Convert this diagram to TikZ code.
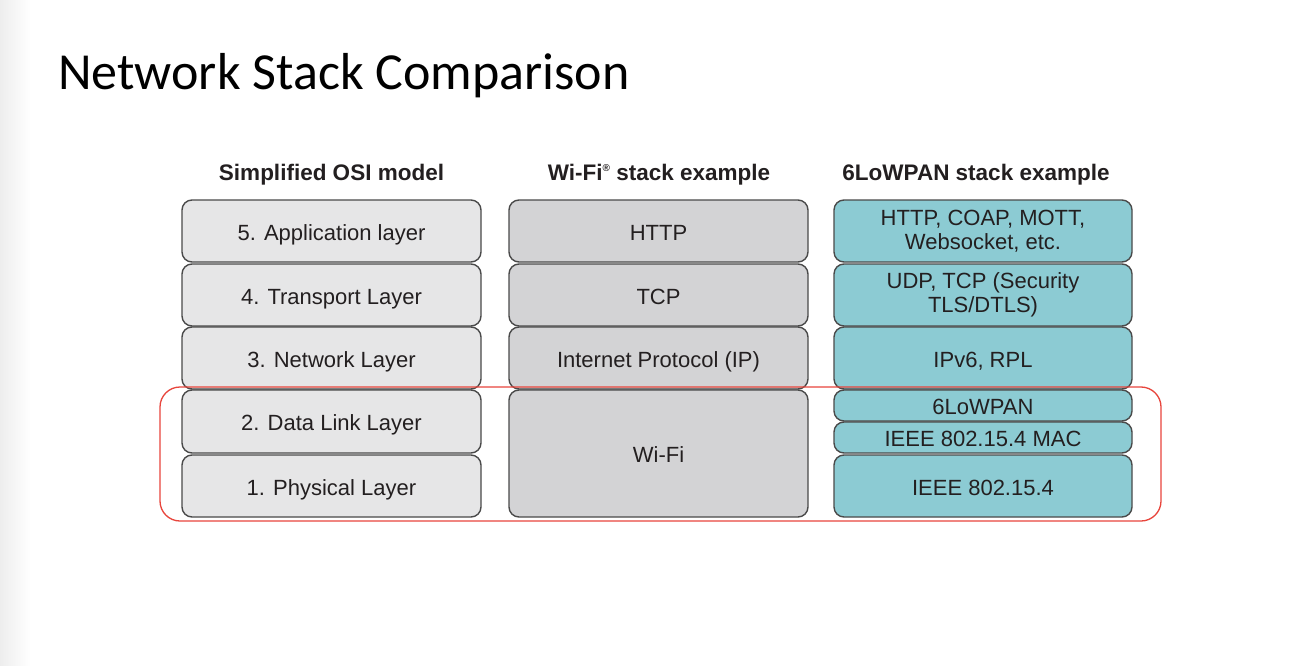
\documentclass[tikz,border=0pt]{standalone}
\usepackage{fontspec}
\setmainfont{Liberation Sans}
\newfontfamily\titlefont{Carlito}
\definecolor{bordc}{HTML}{4A4A4A}
\definecolor{txtc}{HTML}{231F20}
\definecolor{osifill}{HTML}{E6E6E7}
\definecolor{wififill}{HTML}{D3D3D5}
\definecolor{lowfill}{HTML}{8CCBD3}
\definecolor{redc}{HTML}{E8453C}
\begin{document}
\begin{tikzpicture}[x=1pt,y=-1pt,
  layerbox/.style={draw=bordc, line width=1.4pt, rounded corners=10pt, inner sep=0pt, align=center,
    text=txtc, font=\fontsize{22}{24}\selectfont},
  one/.style={text height=18.5pt, text depth=0pt},
  osi/.style={layerbox, fill=osifill, minimum width=299pt},
  wifi/.style={layerbox, fill=wififill, minimum width=299pt},
  low/.style={layerbox, fill=lowfill, minimum width=298pt},
  head/.style={text=txtc, font=\fontsize{22.5}{25}\selectfont\bfseries, anchor=base, inner sep=0pt}]
\useasboundingbox (0,0) rectangle (1290,666);
\fill[white] (0,0) rectangle (1290,666);
\shade[left color=black!7, right color=white] (0,0) rectangle (30,666);
\node[anchor=base west, inner sep=0pt, font=\fontsize{52}{60}\titlefont\selectfont] (title) at (58,90) {Network Stack Comparison};
% headers
\node[head] (h1) at (331.5,180) {Simplified OSI model};
\node[head] (h2) at (659,180) {Wi-Fi\raisebox{0.75ex}{\fontsize{10}{10}\selectfont ®} stack example};
\node[head] (h3) at (976,180) {6LoWPAN stack example};
% OSI column
\node[osi, one, minimum height=62pt] (o5) at (331.5,231) {5. Application layer};
\node[osi, one, minimum height=62pt] (o4) at (331.5,295) {4. Transport Layer};
\node[osi, one, minimum height=62pt] (o3) at (331.5,358) {3. Network Layer};
\node[osi, one, minimum height=63pt] (o2) at (331.5,421.5) {2. Data Link Layer};
\node[osi, one, minimum height=62pt] (o1) at (331.5,486) {1. Physical Layer};
% Wi-Fi column
\node[wifi, one, minimum height=62pt] (w5) at (658.5,231) {HTTP};
\node[wifi, one, minimum height=62pt] (w4) at (658.5,295) {TCP};
\node[wifi, one, minimum height=62pt] (w3) at (658.5,358) {Internet Protocol (IP)};
\node[wifi, one, minimum height=127pt] (w1) at (658.5,453.5) {Wi-Fi};
% 6LoWPAN column
\node[low, minimum height=62pt] (l5) at (983,231) {HTTP, COAP, MOTT,\\Websocket, etc.};
\node[low, minimum height=62pt] (l4) at (983,295) {UDP, TCP (Security\\TLS/DTLS)};
\node[low, one, minimum height=62pt] (l3) at (983,358) {IPv6, RPL};
\node[low, one, minimum height=31pt] (l2b) at (983,405.5) {6LoWPAN};
\node[low, one, minimum height=31pt] (l2a) at (983,437.5) {IEEE 802.15.4 MAC};
\node[low, one, minimum height=62pt] (l1) at (983,486) {IEEE 802.15.4};
% red highlight
\draw[redc, line width=1.3pt, rounded corners=20pt] (160,387) rectangle (1161,521);
\end{tikzpicture}
\end{document}
